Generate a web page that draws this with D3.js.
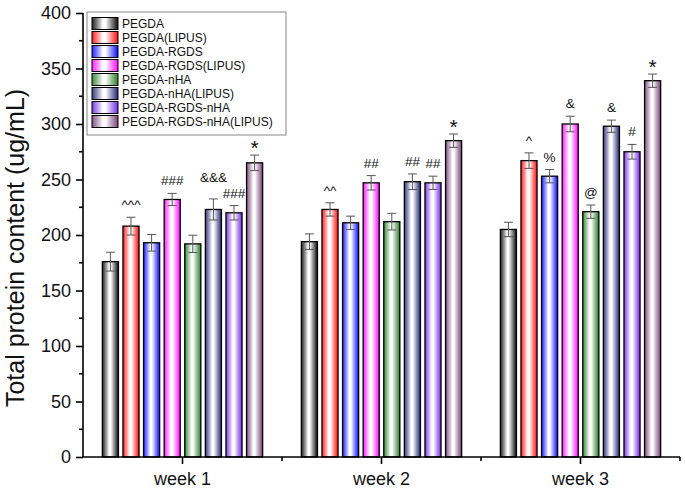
<!DOCTYPE html>
<html><head><meta charset="utf-8">
<script src="https://cdn.jsdelivr.net/npm/d3@7"></script>
<style>body{margin:0;background:#fff}svg{display:block;font-family:"Liberation Sans",Arial,sans-serif}</style>
</head><body><svg id="c" width="685" height="492"></svg>
<script>
const weeks = ["week 1", "week 2", "week 3"];
const series = ["PEGDA","PEGDA(LIPUS)","PEGDA-RGDS","PEGDA-RGDS(LIPUS)","PEGDA-nHA","PEGDA-nHA(LIPUS)","PEGDA-RGDS-nHA","PEGDA-RGDS-nHA(LIPUS)"];
const colors = ["#000000","#ff0000","#0000ff","#ff00ff","#1e7a1e","#1c1c6c","#6a1fe0","#723672"];
// values per series: [week1, week2, week3]
const values = [
  [176, 194, 205],
  [208, 223, 267],
  [193, 211, 253],
  [232, 247, 300],
  [192, 212, 221],
  [223, 248, 298],
  [220, 247, 275],
  [265, 285, 339]
];
const errors = [
  [8.5, 7, 6.5],
  [8, 6, 7],
  [7.5, 6, 6],
  [5.5, 6.5, 7],
  [7.8, 7.5, 6],
  [9.5, 7, 5.5],
  [6.5, 6, 6.6],
  [7, 6, 6]
];
const marks = [
  ["", "", ""],
  ["^^^", "^^", "^"],
  ["", "", "%"],
  ["###", "##", "&"],
  ["", "", "@"],
  ["&&&", "##", "&"],
  ["###", "##", "#"],
  ["*", "*", "*"]
];
const yTicks = [0,50,100,150,200,250,300,350,400];

const svg = d3.select("#c");
const L = 83, R = 680, T = 13, B = 457;
const x0 = d3.scaleBand().domain(weeks).range([L, R]).padding(0);
const x1 = d3.scaleBand().domain(series).range([0, x0.bandwidth()]).paddingInner(0.22).paddingOuter(0.94);
const y = d3.scaleLinear().domain([0, 400]).range([B, T]);

const defs = svg.append("defs");
colors.forEach((c, i) => {
  const g = defs.append("linearGradient").attr("id", "g" + i).attr("x1", "0").attr("x2", "1").attr("y1", "0").attr("y2", "0");
  g.append("stop").attr("offset", "0%").attr("stop-color", c).attr("stop-opacity", 0.85);
  g.append("stop").attr("offset", "42%").attr("stop-color", "#ffffff");
  g.append("stop").attr("offset", "52%").attr("stop-color", "#ffffff");
  g.append("stop").attr("offset", "100%").attr("stop-color", c).attr("stop-opacity", 0.95);
});

// bars
const data = [];
series.forEach((s, si) => weeks.forEach((w, wi) => data.push({s, si, w, wi, v: values[si][wi], e: errors[si][wi], m: marks[si][wi]})));

svg.append("g").selectAll("rect").data(data).join("rect")
  .attr("x", d => x0(d.w) + x1(d.s))
  .attr("y", d => y(d.v))
  .attr("width", x1.bandwidth())
  .attr("height", d => y(0) - y(d.v))
  .attr("fill", d => `url(#g${d.si})`)
  .attr("stroke", "#000").attr("stroke-width", 1.3);

// error bars
const eg = svg.append("g").attr("stroke", "#555").attr("stroke-width", 1).attr("fill", "none");
data.forEach(d => {
  const cx = x0(d.w) + x1(d.s) + x1.bandwidth() / 2;
  eg.append("line").attr("x1", cx).attr("x2", cx).attr("y1", y(d.v - d.e)).attr("y2", y(d.v + d.e));
  [d.v - d.e, d.v + d.e].forEach(v => eg.append("line").attr("x1", cx - 4.5).attr("x2", cx + 4.5).attr("y1", y(v)).attr("y2", y(v)));
});

// significance marks
const mk = svg.append("g").selectAll("text").data(data.filter(d => d.m)).join("text")
  .attr("x", d => x0(d.w) + x1(d.s) + x1.bandwidth() / 2)
  .attr("y", d => y(d.v + d.e) - (d.m === "*" ? 0 : 8))
  .attr("text-anchor", "middle")
  .attr("font-size", d => d.m === "*" ? 21 : 13.5)
  .attr("fill", "#111")
  .text(d => d.m);
// lift a mark when it collides with the mark of the next bar in the same week
const mkNodes = mk.nodes();
weeks.forEach((w, wi) => {
  const ns = mkNodes.filter(n => d3.select(n).datum().wi === wi)
    .sort((a, b) => d3.select(a).datum().si - d3.select(b).datum().si);
  for (let k = ns.length - 2; k >= 0; k--) {
    const a = ns[k].getBBox(), b = ns[k + 1].getBBox();
    const overlapX = a.x + a.width > b.x && b.x + b.width > a.x;
    const overlapY = a.y + a.height > b.y && b.y + b.height > a.y;
    if (overlapX && overlapY) {
      const dy = (a.y + a.height) - b.y + 1;
      ns[k].setAttribute("y", +ns[k].getAttribute("y") - dy);
    }
  }
});

// y axis
const ya = svg.append("g").attr("transform", `translate(${L},0)`)
  .call(d3.axisLeft(y).tickValues(yTicks).tickSize(7).tickPadding(5));
ya.select(".domain").attr("stroke-width", 1.6).attr("d", `M0,${B}V${T}`);
ya.selectAll(".tick line").attr("stroke-width", 1.6);
ya.selectAll("text").attr("font-size", 18).attr("fill", "#111").attr("font-family", "Liberation Sans, Arial, sans-serif");
const minorY = d3.range(25, 400, 50);
svg.append("g").selectAll("line").data(minorY).join("line")
  .attr("x1", L - 4).attr("x2", L).attr("y1", d => y(d)).attr("y2", d => y(d))
  .attr("stroke", "#000").attr("stroke-width", 1.6);

// x axis
const xa = svg.append("g").attr("transform", `translate(0,${B})`)
  .call(d3.axisBottom(x0).tickSize(7).tickPadding(8));
xa.select(".domain").attr("stroke-width", 1.6).attr("d", `M${L},0H${R}`);
xa.selectAll(".tick line").attr("stroke-width", 1.6);
xa.selectAll("text").attr("font-size", 18).attr("fill", "#111").attr("font-family", "Liberation Sans, Arial, sans-serif");
const minorX = weeks.slice(1).map(w => x0(w)).concat([R]);
svg.append("g").selectAll("line").data(minorX).join("line")
  .attr("x1", d => d).attr("x2", d => d).attr("y1", B).attr("y2", B + 4)
  .attr("stroke", "#000").attr("stroke-width", 1.6);

// y title
svg.append("text").attr("transform", `translate(24,248) rotate(-90)`)
  .attr("text-anchor", "middle").attr("font-size", 25).attr("fill", "#111")
  .text("Total protein content (ug/mL)");

// legend
const lg = svg.append("g");
lg.append("rect").attr("x", 87).attr("y", 12).attr("width", 199).attr("height", 123)
  .attr("fill", "#fff").attr("stroke", "#888").attr("stroke-width", 1);
series.forEach((s, i) => {
  const cy = 23.5 + i * 14;
  lg.append("rect").attr("x", 92).attr("y", cy - 6).attr("width", 26).attr("height", 12)
    .attr("fill", `url(#g${i})`).attr("stroke", "#000").attr("stroke-width", 1);
  lg.append("text").attr("x", 122).attr("y", cy + 4.5).attr("font-size", 12).attr("fill", "#111").text(s);
});
</script></body></html>
